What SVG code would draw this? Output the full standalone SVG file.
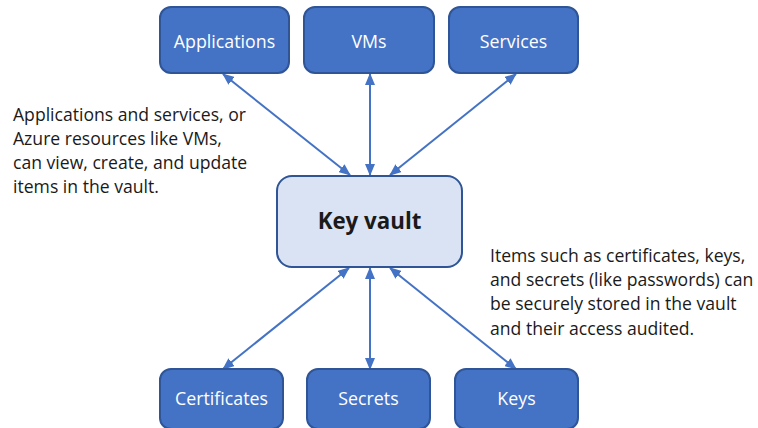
<svg xmlns="http://www.w3.org/2000/svg" width="758" height="428" viewBox="0 0 758 428">
<style>
.box{fill:#4472C4;stroke:#2F5597;stroke-width:2}
.lbl{font-family:"Open Sans","Noto Sans",sans-serif;font-size:17.8px;fill:#ffffff;text-anchor:middle}
.note{font-family:"Open Sans","Noto Sans",sans-serif;font-size:17.6px;fill:#1a1a1a}
.con{stroke:#4472C4;stroke-width:2;fill:none;marker-start:url(#ah);marker-end:url(#ah)}
</style>
<defs>
<marker id="ah" viewBox="0 0 12 10" refX="11" refY="5" markerWidth="12" markerHeight="10" markerUnits="userSpaceOnUse" orient="auto-start-reverse">
<path d="M0,0 L12,5 L0,10 Z" fill="#4472C4"/>
</marker>
</defs>
<rect width="758" height="428" fill="#ffffff"/>
<g id="connectors">
<line class="con" x1="223" y1="74" x2="350" y2="175"/>
<line class="con" x1="370" y1="74" x2="370" y2="175"/>
<line class="con" x1="516" y1="74" x2="390" y2="175"/>
<line class="con" x1="349" y1="268" x2="223" y2="369"/>
<line class="con" x1="370" y1="268" x2="370" y2="369"/>
<line class="con" x1="390" y1="268" x2="516" y2="369"/>
</g>
<g id="applications"><rect class="box" x="160" y="7" width="129" height="66" rx="11"/><text class="lbl" x="224.5" y="48">Applications</text></g>
<g id="vms"><rect class="box" x="304" y="7" width="130" height="66" rx="11"/><text class="lbl" x="369" y="48">VMs</text></g>
<g id="services"><rect class="box" x="449" y="7" width="129" height="66" rx="11"/><text class="lbl" x="513.5" y="48">Services</text></g>
<g id="keyvault"><rect x="277" y="176" width="185" height="91" rx="15" fill="#DAE3F3" stroke="#2F5597" stroke-width="2"/><text x="369.5" y="229" font-family="'Open Sans','Noto Sans',sans-serif" font-size="22.3px" font-weight="bold" fill="#1a1a1a" text-anchor="middle">Key vault</text></g>
<g id="certificates"><rect class="box" x="160" y="369" width="123" height="60" rx="11"/><text class="lbl" x="221.5" y="405">Certificates</text></g>
<g id="secrets"><rect class="box" x="307" y="369" width="123" height="60" rx="11"/><text class="lbl" x="368.5" y="405">Secrets</text></g>
<g id="keys"><rect class="box" x="455" y="369" width="123" height="60" rx="11"/><text class="lbl" x="516.5" y="405">Keys</text></g>
<g id="note-left">
<text class="note" x="13" y="121">Applications and services, or</text>
<text class="note" x="13" y="145">Azure resources like VMs,</text>
<text class="note" x="13" y="169">can view, create, and update</text>
<text class="note" x="13" y="193">items in the vault.</text>
</g>
<g id="note-right">
<text class="note" x="490" y="262">Items such as certificates, keys,</text>
<text class="note" x="490" y="286">and secrets (like passwords) can</text>
<text class="note" x="490" y="310">be securely stored in the vault</text>
<text class="note" x="490" y="335">and their access audited.</text>
</g>
</svg>
